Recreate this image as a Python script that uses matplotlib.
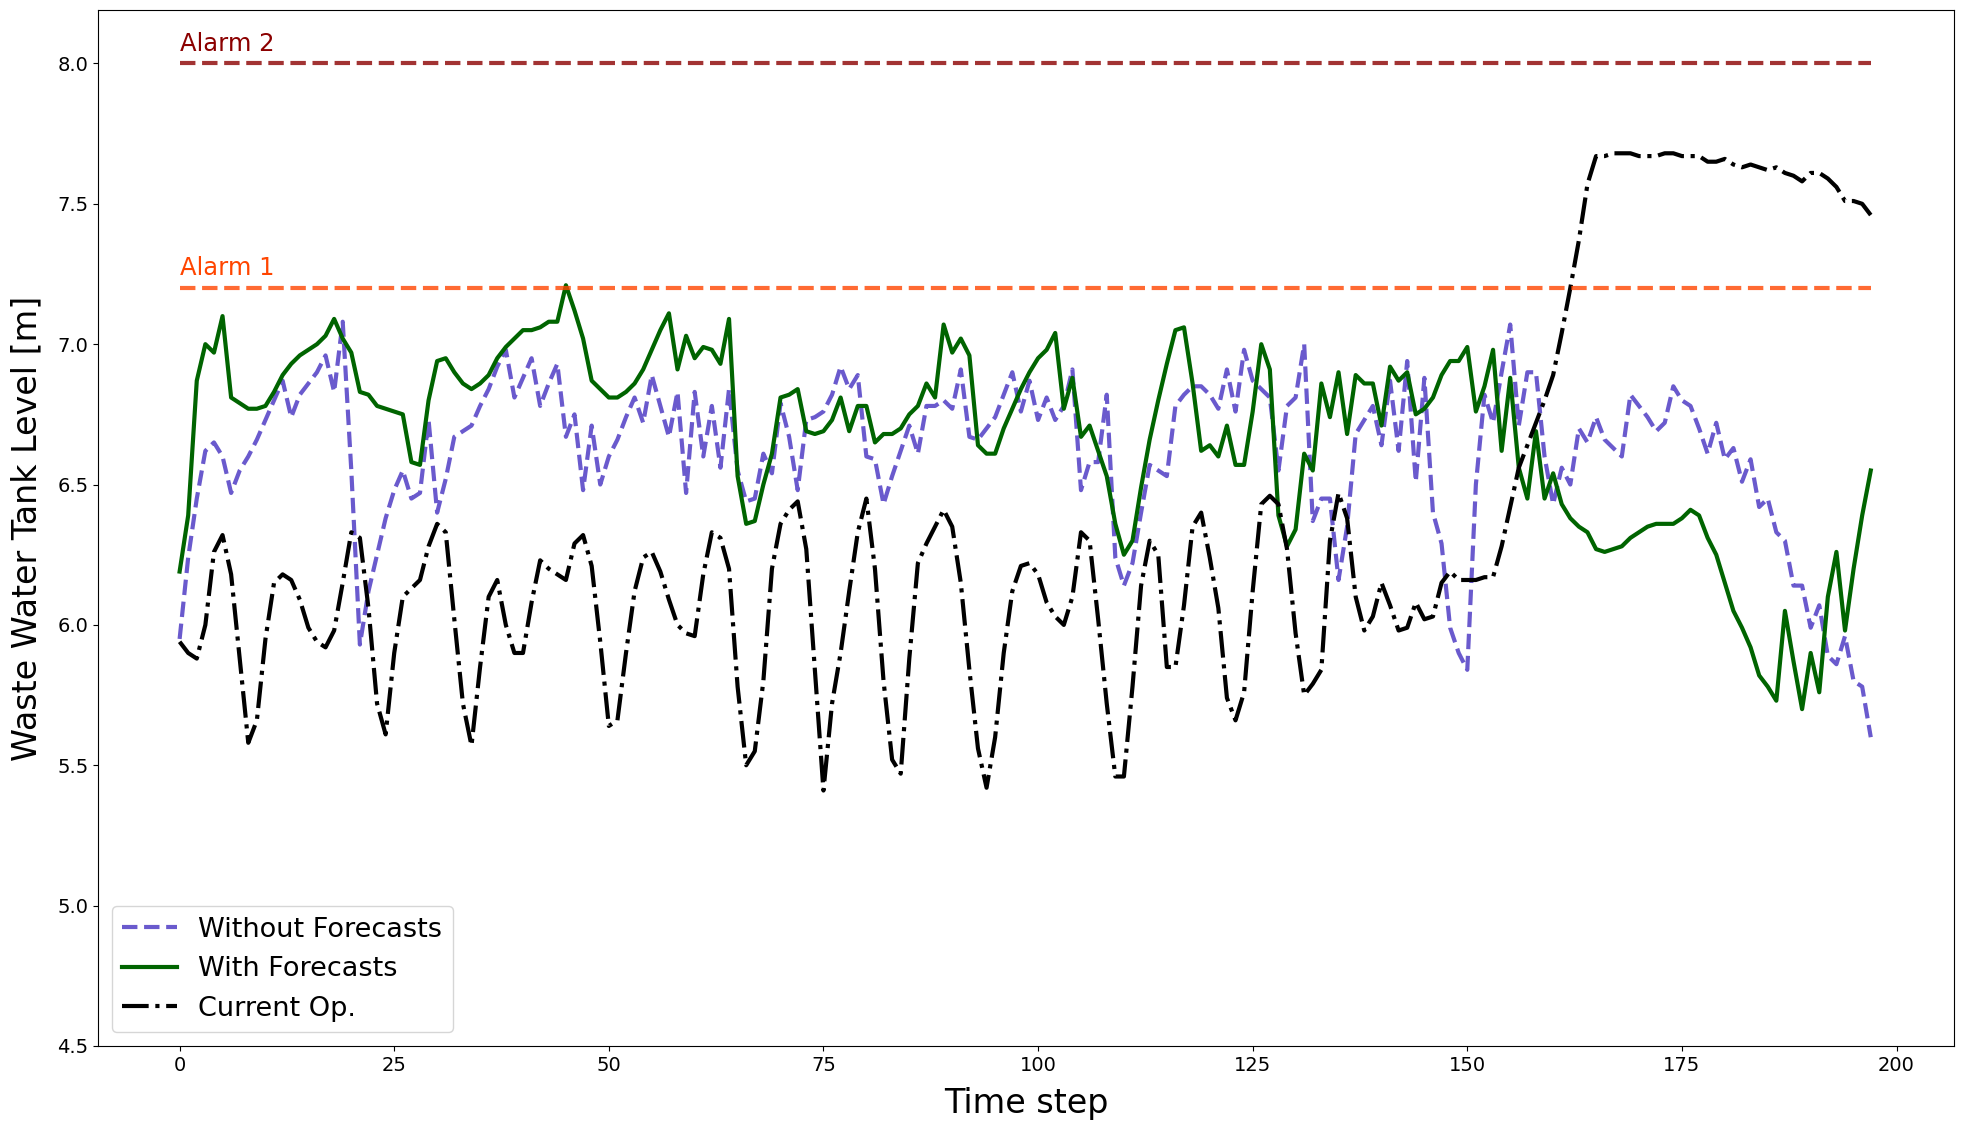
import matplotlib
matplotlib.use("Agg")
import matplotlib.pyplot as plt
import numpy as np

without_forecasts = [
    5.95, 6.24, 6.45, 6.62, 6.65, 6.60, 6.47, 6.55, 6.60, 6.66,
    6.73, 6.80, 6.87, 6.74, 6.82, 6.86, 6.90, 6.96, 6.83, 7.08,
    6.55, 5.93, 6.12, 6.25, 6.38, 6.48, 6.55, 6.45, 6.47, 6.73,
    6.40, 6.52, 6.67, 6.69, 6.71, 6.78, 6.84, 6.92, 6.98, 6.81,
    6.88, 6.95, 6.78, 6.86, 6.93, 6.67, 6.75, 6.48, 6.71, 6.50,
    6.60, 6.66, 6.74, 6.81, 6.72, 6.89, 6.78, 6.67, 6.83, 6.47,
    6.83, 6.60, 6.78, 6.56, 6.84, 6.55, 6.44, 6.45, 6.61, 6.54,
    6.79, 6.67, 6.48, 6.73, 6.74, 6.76, 6.82, 6.92, 6.84, 6.89,
    6.60, 6.59, 6.43, 6.53, 6.62, 6.71, 6.61, 6.78, 6.78, 6.80,
    6.77, 6.91, 6.67, 6.66, 6.70, 6.74, 6.82, 6.90, 6.76, 6.87,
    6.73, 6.81, 6.73, 6.78, 6.91, 6.48, 6.58, 6.58, 6.82, 6.24,
    6.14, 6.22, 6.40, 6.57, 6.55, 6.53, 6.78, 6.82, 6.85, 6.85,
    6.82, 6.77, 6.91, 6.76, 6.98, 6.87, 6.84, 6.81, 6.55, 6.78,
    6.81, 7.00, 6.37, 6.45, 6.45, 6.16, 6.35, 6.68, 6.73, 6.78,
    6.64, 6.87, 6.62, 6.94, 6.51, 6.88, 6.40, 6.29, 5.99, 5.90,
    5.84, 6.50, 6.82, 6.72, 6.90, 7.07, 6.71, 6.90, 6.90, 6.60,
    6.43, 6.56, 6.50, 6.70, 6.65, 6.74, 6.66, 6.63, 6.60, 6.82,
    6.78, 6.74, 6.69, 6.72, 6.85, 6.80, 6.78, 6.70, 6.61, 6.72,
    6.59, 6.63, 6.51, 6.59, 6.42, 6.45, 6.33, 6.30, 6.14, 6.14,
    5.99, 6.07, 5.89, 5.86, 5.96, 5.80, 5.78, 5.60,
]

with_forecasts = [
    6.19, 6.39, 6.87, 7.00, 6.97, 7.10, 6.81, 6.79, 6.77, 6.77,
    6.78, 6.83, 6.89, 6.93, 6.96, 6.98, 7.00, 7.03, 7.09, 7.02,
    6.97, 6.83, 6.82, 6.78, 6.77, 6.76, 6.75, 6.58, 6.57, 6.80,
    6.94, 6.95, 6.90, 6.86, 6.84, 6.86, 6.89, 6.95, 6.99, 7.02,
    7.05, 7.05, 7.06, 7.08, 7.08, 7.21, 7.12, 7.02, 6.87, 6.84,
    6.81, 6.81, 6.83, 6.86, 6.91, 6.98, 7.05, 7.11, 6.91, 7.03,
    6.95, 6.99, 6.98, 6.93, 7.09, 6.53, 6.36, 6.37, 6.50, 6.61,
    6.81, 6.82, 6.84, 6.69, 6.68, 6.69, 6.73, 6.81, 6.69, 6.78,
    6.78, 6.65, 6.68, 6.68, 6.70, 6.75, 6.78, 6.86, 6.81, 7.07,
    6.97, 7.02, 6.96, 6.64, 6.61, 6.61, 6.70, 6.77, 6.84, 6.90,
    6.95, 6.98, 7.04, 6.77, 6.88, 6.67, 6.71, 6.62, 6.53, 6.36,
    6.25, 6.30, 6.49, 6.66, 6.80, 6.93, 7.05, 7.06, 6.86, 6.62,
    6.64, 6.60, 6.71, 6.57, 6.57, 6.76, 7.00, 6.91, 6.39, 6.28,
    6.34, 6.61, 6.55, 6.86, 6.74, 6.90, 6.68, 6.89, 6.86, 6.86,
    6.71, 6.92, 6.87, 6.90, 6.75, 6.77, 6.81, 6.89, 6.94, 6.94,
    6.99, 6.76, 6.85, 6.98, 6.62, 6.88, 6.56, 6.45, 6.69, 6.45,
    6.54, 6.43, 6.38, 6.35, 6.33, 6.27, 6.26, 6.27, 6.28, 6.31,
    6.33, 6.35, 6.36, 6.36, 6.36, 6.38, 6.41, 6.39, 6.31, 6.25,
    6.15, 6.05, 5.99, 5.92, 5.82, 5.78, 5.73, 6.05, 5.87, 5.70,
    5.90, 5.76, 6.10, 6.26, 5.98, 6.20, 6.39, 6.55,
]

current_op = [
    5.94, 5.90, 5.88, 6.00, 6.26, 6.32, 6.18, 5.88, 5.58, 5.66,
    5.95, 6.15, 6.18, 6.16, 6.09, 5.99, 5.94, 5.92, 5.98, 6.15,
    6.33, 6.31, 6.06, 5.72, 5.61, 5.90, 6.10, 6.13, 6.16, 6.28,
    6.36, 6.33, 6.02, 5.72, 5.57, 5.85, 6.10, 6.16, 6.00, 5.90,
    5.90, 6.08, 6.23, 6.20, 6.18, 6.16, 6.29, 6.32, 6.21, 5.94,
    5.64, 5.66, 5.90, 6.12, 6.24, 6.26, 6.19, 6.09, 6.00, 5.97,
    5.96, 6.18, 6.33, 6.31, 6.20, 5.78, 5.50, 5.55, 5.80, 6.20,
    6.36, 6.41, 6.44, 6.27, 5.84, 5.41, 5.72, 5.90, 6.12, 6.33,
    6.45, 6.20, 5.80, 5.52, 5.47, 5.88, 6.22, 6.29, 6.35, 6.41,
    6.35, 6.15, 5.84, 5.56, 5.42, 5.60, 5.90, 6.12, 6.21, 6.22,
    6.18, 6.08, 6.03, 6.00, 6.10, 6.33, 6.30, 6.02, 5.72, 5.46,
    5.46, 5.78, 6.14, 6.30, 6.25, 5.85, 5.85, 6.07, 6.35, 6.40,
    6.24, 6.06, 5.74, 5.66, 5.76, 6.12, 6.43, 6.46, 6.43, 6.27,
    5.97, 5.75, 5.79, 5.84, 6.30, 6.47, 6.38, 6.10, 5.98, 6.03,
    6.15, 6.07, 5.98, 5.99, 6.08, 6.02, 6.03, 6.15, 6.19, 6.16,
    6.16, 6.16, 6.17, 6.17, 6.28, 6.42, 6.56, 6.64, 6.72, 6.80,
    6.89, 7.04, 7.20, 7.37, 7.57, 7.67, 7.67, 7.68, 7.68, 7.68,
    7.67, 7.67, 7.67, 7.68, 7.68, 7.67, 7.67, 7.67, 7.65, 7.65,
    7.66, 7.64, 7.63, 7.64, 7.63, 7.62, 7.63, 7.61, 7.60, 7.58,
    7.61, 7.61, 7.59, 7.56, 7.51, 7.51, 7.50, 7.46,
]

alarm_levels = [8.0, 7.2]
alarm_labels = ["Alarm 2", "Alarm 1"]
alarm_line_colors = ["darkred", "orangered"]

steps = np.arange(len(current_op))

fig = plt.figure(figsize=(19.69, 11.24), dpi=100)
ax = fig.add_axes([0.0498, 0.0694, 0.9426, 0.9216])

ax.plot(steps, without_forecasts, color="slateblue", linestyle="--", lw=3,
        label="Without Forecasts")
ax.plot(steps, with_forecasts, color="darkgreen", linestyle="-", lw=3,
        label="With Forecasts")
ax.plot(steps, current_op, color="black", linestyle="-.", lw=3,
        label="Current Op.")

for lvl, lab, col in zip(alarm_levels, alarm_labels, alarm_line_colors):
    ax.hlines(lvl, steps[0], steps[-1], colors=col, linestyles="--", lw=3, alpha=0.8)
    ax.text(steps[0], lvl + 0.045, lab, color=col, fontsize=17.5, va="baseline", ha="left")

ax.set_ylim(4.5, 8.19)
ax.set_xlim(-9.5, 206.7)
ax.set_xticks([0, 25, 50, 75, 100, 125, 150, 175, 200])
ax.set_yticks([4.5, 5.0, 5.5, 6.0, 6.5, 7.0, 7.5, 8.0])
ax.tick_params(labelsize=14)
ax.set_xlabel("Time step", fontsize=24, labelpad=9)
ax.set_ylabel("Waste Water Tank Level [m]", fontsize=24, labelpad=10)
ax.legend(loc="lower left", fontsize=19.5)

fig.savefig("out.png", dpi=100)
